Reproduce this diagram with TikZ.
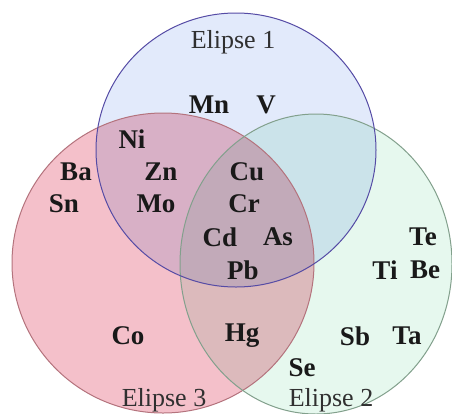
\documentclass[tikz,border=0pt]{standalone}
\usepackage{fontspec}
\setmainfont{Liberation Serif}
\definecolor{fillA}{RGB}{226,234,251}
\definecolor{fillB}{RGB}{230,248,238}
\definecolor{fillC}{RGB}{244,192,202}
\definecolor{lineA}{RGB}{85,75,165}
\definecolor{lineB}{RGB}{130,160,140}
\definecolor{lineC}{RGB}{180,115,125}
\definecolor{txt}{RGB}{25,25,25}
\tikzset{
  elem/.style={font=\fontsize{27}{27}\selectfont\bfseries, text=txt, inner sep=0pt},
  setlabel/.style={font=\fontsize{26}{26}\selectfont, text=txt!90, inner sep=0pt}
}
\begin{document}
\begin{tikzpicture}[x=1pt,y=-1pt]
\useasboundingbox[fill=white] (0,0) rectangle (452,413);
\begin{scope}[transparency group]
  \begin{scope}[blend mode=multiply]
    \fill[fillA] (236,150) ellipse [x radius=140, y radius=137];
    \fill[fillB] (316,264) ellipse [x radius=136, y radius=150];
    \fill[fillC] (163,263) ellipse [x radius=151, y radius=150];
  \end{scope}
\end{scope}
\draw[lineC, line width=1pt] (163,263) ellipse [x radius=151, y radius=150];
\draw[lineB, line width=1pt] (316,264) ellipse [x radius=136, y radius=150];
\draw[lineA, line width=1pt] (236,150) ellipse [x radius=140, y radius=137];
\node[setlabel] (l1) at (233,42) {Elipse 1};
\node[setlabel] (l3) at (164,400) {Elipse 3};
\node[setlabel] (l2) at (331,400) {Elipse 2};
\node[elem] (mn) at (209,105) {Mn};
\node[elem] (v) at (266,105) {V};
\node[elem] (ni) at (132,139) {Ni};
\node[elem] (ba) at (76,172) {Ba};
\node[elem] (zn) at (161,172) {Zn};
\node[elem] (cu) at (247,172) {Cu};
\node[elem] (sn) at (64,204) {Sn};
\node[elem] (mo) at (156,204) {Mo};
\node[elem] (cr) at (244,204) {Cr};
\node[elem] (cd) at (220,237) {Cd};
\node[elem] (as) at (278,237) {As};
\node[elem] (te) at (423,237) {Te};
\node[elem] (pb) at (243,270) {Pb};
\node[elem] (ti) at (385,270) {Ti};
\node[elem] (be) at (425,270) {Be};
\node[elem] (co) at (128,336) {Co};
\node[elem] (hg) at (242,336) {Hg};
\node[elem] (sb) at (355,336) {Sb};
\node[elem] (ta) at (407,336) {Ta};
\node[elem] (se) at (302,368) {Se};
\end{tikzpicture}
\end{document}
